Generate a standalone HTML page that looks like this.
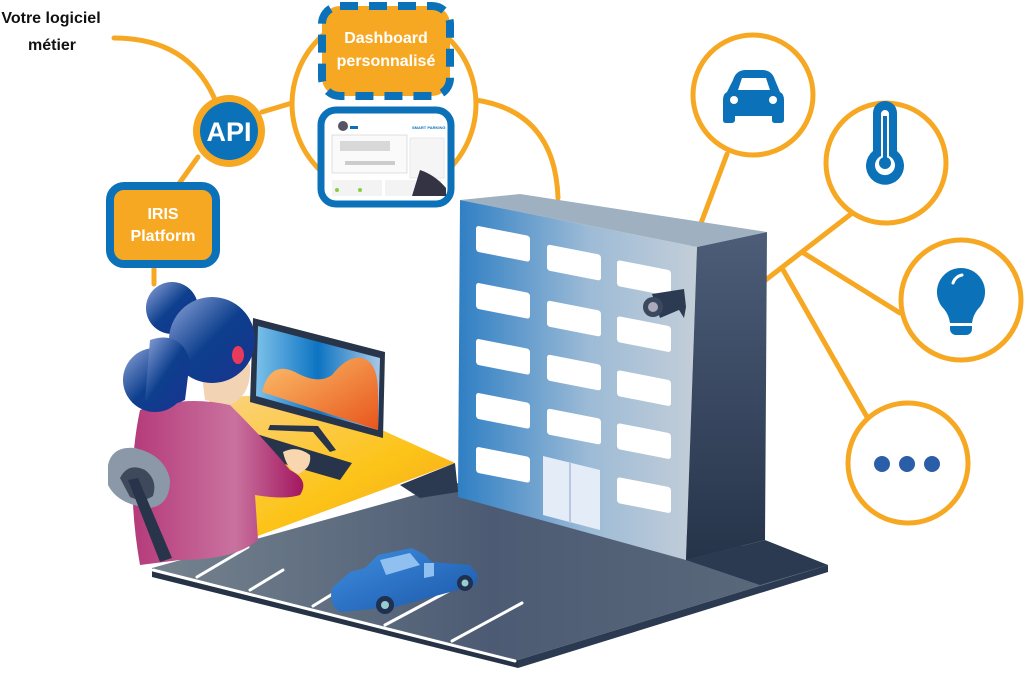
<!DOCTYPE html>
<html><head><meta charset="utf-8"><style>
html,body{margin:0;padding:0;background:#fff;}
svg{display:block;}
text{font-family:"Liberation Sans",sans-serif;font-weight:bold;}
</style></head><body>
<svg width="1024" height="673" viewBox="0 0 1024 673" xmlns="http://www.w3.org/2000/svg">
<defs>
<linearGradient id="front" x1="0" y1="0" x2="1" y2="0"><stop offset="0" stop-color="#2f7fc4"/><stop offset="0.55" stop-color="#9dbbd6"/><stop offset="1" stop-color="#c3ced8"/></linearGradient>
<linearGradient id="side" x1="0" y1="0" x2="0" y2="1"><stop offset="0" stop-color="#4d5d78"/><stop offset="1" stop-color="#26344a"/></linearGradient>
<linearGradient id="ground" x1="0" y1="0" x2="1" y2="0"><stop offset="0" stop-color="#75838f"/><stop offset="0.5" stop-color="#4c5b73"/><stop offset="1" stop-color="#5d6b7c"/></linearGradient>
<linearGradient id="desk" x1="0" y1="0" x2="1" y2="1"><stop offset="0" stop-color="#fbd38a"/><stop offset="0.6" stop-color="#fcc418"/><stop offset="1" stop-color="#f6a21f"/></linearGradient>
<linearGradient id="screen" x1="0" y1="0" x2="1" y2="0"><stop offset="0" stop-color="#7cc0ea"/><stop offset="0.5" stop-color="#0d74c2"/><stop offset="1" stop-color="#a8c8e6"/></linearGradient>
<linearGradient id="wave" x1="0" y1="0" x2="1" y2="1"><stop offset="0" stop-color="#fbbf6a"/><stop offset="1" stop-color="#e8551d"/></linearGradient>
<linearGradient id="hair" x1="0" y1="0" x2="1" y2="1"><stop offset="0" stop-color="#8fa4da"/><stop offset="0.5" stop-color="#0d3f8d"/><stop offset="1" stop-color="#1a3390"/></linearGradient>
<linearGradient id="body" x1="0" y1="0" x2="1" y2="0"><stop offset="0" stop-color="#b53a7a"/><stop offset="0.6" stop-color="#c9729f"/><stop offset="1" stop-color="#a3175f"/></linearGradient>
<linearGradient id="car" x1="0" y1="0" x2="1" y2="1"><stop offset="0" stop-color="#3f8ee0"/><stop offset="1" stop-color="#1a56a8"/></linearGradient>
</defs>

<g fill="none" stroke="#f7a823" stroke-width="5" stroke-linecap="round">
<path d="M114,38 Q190,38 216,102"/>
<line x1="198" y1="157" x2="178" y2="185"/>
<line x1="154" y1="266" x2="154" y2="284"/>
<line x1="262" y1="112" x2="292" y2="103"/>
<circle cx="384" cy="104" r="92"/>
<path d="M476,100 Q555,112 558,198"/>
<line x1="727" y1="154" x2="677" y2="287"/>
<line x1="763" y1="282" x2="851" y2="214"/>
<line x1="802" y1="252" x2="900" y2="313"/>
<line x1="782" y1="268" x2="867" y2="417"/>
</g>

<g fill="#fff" stroke="#f7a823" stroke-width="5">
<circle cx="753" cy="95" r="60"/>
<circle cx="886" cy="163" r="60"/>
<circle cx="961" cy="300" r="60"/>
<circle cx="908" cy="463" r="60"/>
</g>
<g fill="#0b72b9">
<path d="M733,80 Q736,70 746,70 L762,70 Q772,70 775,80 L780,92 Q784,94 784,100 L784,120 Q784,123 780,123 L775,123 Q772,123 772,120 L772,116 L735,116 L735,120 Q735,123 731,123 L726,123 Q723,123 723,120 L723,100 Q723,94 727,92 Z"/>
</g>
<path d="M738,90 L742,78 L766,78 L770,90 Z" fill="#fff"/>
<circle cx="734" cy="100" r="4" fill="#fff"/><circle cx="773" cy="100" r="4" fill="#fff"/>
<path d="M873,113 a12,12 0 0 1 24,0 v38 a19,19 0 1 1 -24,0 Z" fill="#0b72b9"/>
<path d="M881,114 a4,4 0 0 1 8,0 v42 a10,10 0 1 1 -8,0 Z" fill="#fff"/>
<rect x="883" y="116" width="4" height="42" fill="#0b72b9"/><circle cx="885" cy="163" r="6" fill="#0b72b9"/>
<path d="M961,268 a24,24 0 0 1 17,41 q-5,6 -6,14 h-22 q-1,-8 -6,-14 a24,24 0 0 1 17,-41 Z" fill="#0b72b9"/>
<path d="M950,326 h22 v3 a6,6 0 0 1 -6,6 h-10 a6,6 0 0 1 -6,-6 Z" fill="#0b72b9"/>
<path d="M953,283 a12,12 0 0 1 9,-8" stroke="#fff" stroke-width="3" fill="none" stroke-linecap="round"/>
<g fill="#2a5ea8"><circle cx="882" cy="464" r="8"/><circle cx="907" cy="464" r="8"/><circle cx="932" cy="464" r="8"/></g>

<text x="51" y="23" font-size="16" text-anchor="middle" fill="#111">Votre logiciel</text>
<text x="52" y="50" font-size="16" text-anchor="middle" fill="#111">métier</text>
<circle cx="229" cy="131" r="36" fill="#f7a823"/>
<circle cx="229" cy="131" r="29" fill="#0b72b9"/>
<text x="229" y="141" font-size="27" text-anchor="middle" fill="#fff">API</text>
<rect x="110" y="186" width="106" height="78" rx="14" fill="#f7a823" stroke="#0b72b9" stroke-width="8"/>
<text x="163" y="219" font-size="16" text-anchor="middle" fill="#fff">IRIS</text>
<text x="163" y="241" font-size="16" text-anchor="middle" fill="#fff">Platform</text>
<rect x="322" y="6" width="128" height="90" rx="18" fill="#f7a823" stroke="#0b72b9" stroke-width="8" stroke-dasharray="18,11"/>
<text x="386" y="43" font-size="16" text-anchor="middle" fill="#fff">Dashboard</text>
<text x="386" y="66" font-size="16" text-anchor="middle" fill="#fff">personnalisé</text>
<rect x="321" y="110" width="130" height="94" rx="15" fill="#fff" stroke="#0b72b9" stroke-width="7"/>
<g>
<circle cx="343" cy="126" r="5" fill="#556"/>
<rect x="350" y="126" width="8" height="3" fill="#0b72b9"/>
<text x="412" y="129" font-size="4" fill="#0b72b9">SMART PARKING</text>
<rect x="332" y="135" width="75" height="38" fill="#fafafa" stroke="#ccc" stroke-width="0.6"/>
<rect x="340" y="141" width="50" height="10" fill="#d8d8d8"/>
<rect x="345" y="161" width="50" height="4" fill="#ccc"/>
<rect x="410" y="138" width="34" height="40" fill="#f5f5f5" stroke="#ddd" stroke-width="0.6"/>
<rect x="332" y="180" width="50" height="16" fill="#f3f3f3"/>
<rect x="385" y="180" width="56" height="16" fill="#f3f3f3"/>
<circle cx="337" cy="190" r="2" fill="#8c4"/><circle cx="360" cy="190" r="2" fill="#8c4"/>
<path d="M420,170 Q435,175 446,188 L446,196 L412,196 Z" fill="#334"/>
</g>

<polygon points="152,568 458,483 828,565 518,660" fill="url(#ground)"/>
<polygon points="152,568 518,660 518,668 152,577" fill="#263347"/>
<polygon points="518,660 828,565 828,572 518,668" fill="#2b3a50"/>
<g stroke="#fff" stroke-width="3" stroke-linecap="round">
<line x1="153" y1="570" x2="515" y2="661"/>
<line x1="197" y1="577" x2="248" y2="547"/>
<line x1="250" y1="590" x2="283" y2="570"/>
<line x1="313" y1="606" x2="352" y2="582"/>
<line x1="385" y1="625" x2="458" y2="586"/>
<line x1="452" y1="641" x2="522" y2="603"/>
</g>

<polygon points="520,194 767,232 697,247 460,200" fill="#9fb0c0"/>
<polygon points="460,200 697,247 686,560 458,497" fill="url(#front)"/>
<polygon points="697,247 767,232 765,540 686,560" fill="url(#side)"/>
<polygon points="686,560 765,540 828,565 760,585" fill="#2b3a50"/>
<g fill="#fff">
<g transform="skewY(11)">
<rect x="476" y="133" width="54" height="26" rx="3"/>
<rect x="476" y="190" width="54" height="26" rx="3"/>
<rect x="476" y="246" width="54" height="26" rx="3"/>
<rect x="476" y="300" width="54" height="26" rx="3"/>
<rect x="476" y="354" width="54" height="26" rx="3"/>
<rect x="547" y="138" width="54" height="26" rx="3"/>
<rect x="547" y="194" width="54" height="26" rx="3"/>
<rect x="547" y="248" width="54" height="26" rx="3"/>
<rect x="547" y="302" width="54" height="26" rx="3"/>
<rect x="617" y="140" width="54" height="26" rx="3"/>
<rect x="617" y="196" width="54" height="26" rx="3"/>
<rect x="617" y="250" width="54" height="26" rx="3"/>
<rect x="617" y="303" width="54" height="26" rx="3"/>
<rect x="617" y="357" width="54" height="26" rx="3"/>
</g>
</g>
<polygon points="543,456 600,470 600,530 543,515" fill="#e4ecf8"/>
<line x1="570" y1="462" x2="570" y2="523" stroke="#b8c8e0" stroke-width="2"/>
<polygon points="652,294 684,289 686,307 660,318" fill="#2c3a52"/>
<polygon points="676,305 686,307 684,318" fill="#2c3a52"/>
<circle cx="653" cy="307" r="10" fill="#3a4860"/><circle cx="653" cy="307" r="5" fill="#aab"/>

<polygon points="210,398 300,393 455,463 247,540 190,520" fill="url(#desk)"/>
<polygon points="400,485 455,463 458,492 420,498" fill="#2b3a50"/>
<polygon points="253,318 385,352 383,438 250,402" fill="#27344a"/>
<polygon points="258,326 380,358 378,430 256,396" fill="url(#screen)"/>
<path d="M262,392 Q270,360 295,372 Q318,385 332,375 Q348,355 362,358 Q378,362 378,392 L378,430 Z" fill="url(#wave)"/>
<polygon points="270,425 318,426 336,450 330,452 313,432 268,430" fill="#27344a"/>
<polygon points="230,440 250,432 352,463 340,480 236,450" fill="#27344a"/>
<!-- person body -->
<path d="M140,410 Q185,395 230,405 Q265,440 290,470 Q310,480 300,495 Q285,500 255,495 L258,540 Q235,560 180,560 L140,565 Q125,480 140,410 Z" fill="url(#body)"/>
<!-- chair (in front of body on left) -->
<path d="M108,465 Q112,446 135,448 Q165,455 170,480 Q170,505 150,508 Q118,505 108,485 Z" fill="#8a98a8"/>
<path d="M120,478 Q128,462 145,470 Q158,480 153,496 Q143,503 130,497 Z" fill="#3e4a5c"/>
<polygon points="128,480 138,478 172,558 160,562" fill="#27344a"/>
<path d="M283,452 Q297,445 310,455 Q312,468 298,474 Q287,470 283,452 Z" fill="#f7d6b0"/>
<path d="M200,360 Q230,340 250,365 Q252,395 230,405 L205,400 Z" fill="#f2d4b4"/>
<circle cx="172" cy="308" r="26" fill="url(#hair)"/>
<circle cx="212" cy="340" r="43" fill="url(#hair)"/>
<circle cx="155" cy="380" r="32" fill="url(#hair)"/>
<path d="M150,340 Q180,330 190,360 L185,400 Q165,410 145,400 Z" fill="url(#hair)"/>
<ellipse cx="238" cy="355" rx="6" ry="9" fill="#e83a5a"/>

<g>
<path d="M332,588 L350,572 L365,568 L378,555 L412,548 L425,555 L432,562 L470,565 L478,575 L476,585 L395,607 L340,612 Q328,605 332,588 Z" fill="url(#car)"/>
<polygon points="380,560 410,553 420,565 386,575" fill="#8fc0f0"/>
<polygon points="424,563 434,563 434,576 424,578" fill="#8fc0f0"/>
<circle cx="385" cy="605" r="9" fill="#1f3050"/><circle cx="385" cy="605" r="4" fill="#9cc"/>
<circle cx="465" cy="583" r="8" fill="#1f3050"/><circle cx="465" cy="583" r="3.5" fill="#9cc"/>
</g>
</svg>
</body></html>
